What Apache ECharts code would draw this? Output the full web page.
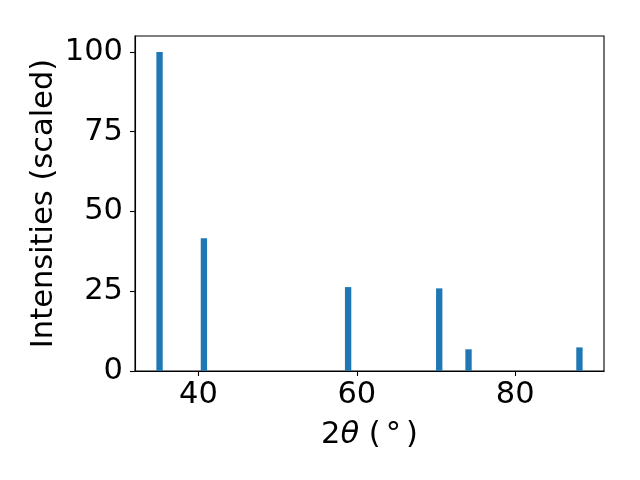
<!DOCTYPE html>
<html>
<head>
<meta charset="utf-8">
<script src="https://cdn.jsdelivr.net/npm/echarts@6/dist/echarts.min.js"></script>
<style>
html,body{margin:0;padding:0;background:#fff;}
#chart{width:640px;height:480px;}
</style>
</head>
<body>
<div id="chart"></div>
<script>
// Peak positions (2θ, degrees) and scaled intensities
const peakPositions = [35.1, 40.7, 58.9, 70.4, 74.1, 88.1];
const peakIntensities = [100, 41.6, 26.3, 25.9, 6.8, 7.4];
const xTicks = [40, 60, 80];
const yTicks = [0, 25, 50, 75, 100];
const barWidthData = 0.8;

const data = peakPositions.map((x, i) => [x, peakIntensities[i]]);
const font = 'DejaVu Sans';
const fs = 30.5;

const chart = echarts.init(document.getElementById('chart'), null, {renderer: 'canvas'});
chart.setOption({
  animation: false,
  backgroundColor: '#fff',
  grid: {left: 135, right: 36, top: 36, bottom: 109, show: true, borderColor: '#000', borderWidth: 1.1, backgroundColor: 'transparent'},
  xAxis: {
    type: 'value', min: 32.0, max: 91.2,
    name: '2{i|θ} (\u2006°\u2006)', nameLocation: 'middle', nameGap: 49,
    nameTextStyle: {fontFamily: font, fontSize: fs, color: '#000',
      rich: {i: {fontFamily: font, fontStyle: 'italic', fontSize: fs, color: '#000'}}},
    axisLine: {show: true, onZero: false, lineStyle: {color: '#000', width: 1.1}},
    axisTick: {show: true, length: 5, lineStyle: {color: '#000', width: 1.1}, customValues: xTicks},
    axisLabel: {fontFamily: font, fontSize: fs, color: '#000', margin: 9, customValues: xTicks},
    splitLine: {show: false}
  },
  yAxis: {
    type: 'value', min: 0, max: 105,
    name: 'Intensities (scaled)', nameLocation: 'middle', nameGap: 75, nameRotate: 90,
    nameMoveOverlap: false,
    nameTextStyle: {fontFamily: font, fontSize: fs, color: '#000'},
    axisLine: {show: true, onZero: false, lineStyle: {color: '#000', width: 1.1}},
    axisTick: {show: true, length: 5, lineStyle: {color: '#000', width: 1.1}, customValues: yTicks},
    axisLabel: {fontFamily: font, fontSize: fs, color: '#000', margin: 12, customValues: yTicks},
    splitLine: {show: false}
  },
  series: [{
    type: 'custom',
    data: data,
    encode: {x: 0, y: 1},
    renderItem: function (params, api) {
      const x = api.value(0), y = api.value(1);
      const p0 = api.coord([x - barWidthData / 2, y]);
      const p1 = api.coord([x + barWidthData / 2, 0]);
      return {
        type: 'rect',
        shape: {x: p0[0], y: p0[1], width: p1[0] - p0[0], height: p1[1] - p0[1]},
        style: {fill: '#1f77b4'}
      };
    }
  }]
});
</script>
</body>
</html>
